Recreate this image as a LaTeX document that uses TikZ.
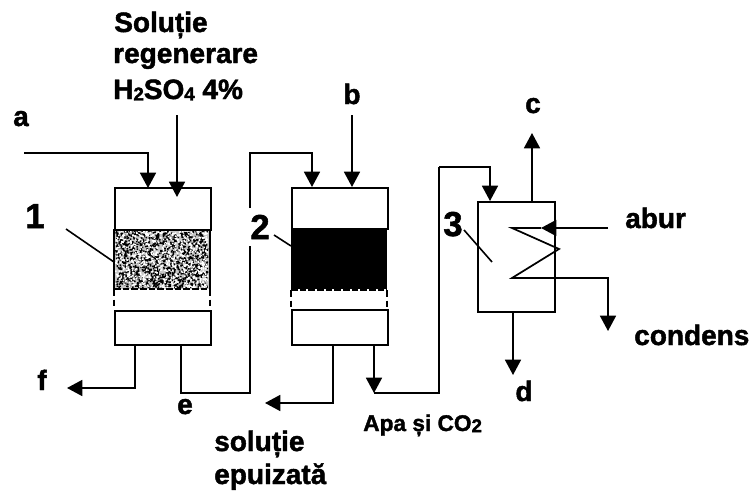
\documentclass[tikz,border=0pt]{standalone}
\usepackage{fontspec}
\setmainfont[BoldFeatures={FakeBold=1.6}]{Liberation Sans}
\usetikzlibrary{arrows.meta}
\tikzset{
  x=0.75pt,y=-0.75pt,
  wall/.style={draw=black,line width=1.4pt},
  pipe/.style={draw=black,line width=1.3pt,line join=miter},
  flow/.style={pipe,-{Triangle[length=11.5pt,width=12pt]}},
  leader/.style={draw=black,line width=1.2pt},
  lab/.style={inner sep=0pt,font=\fontsize{21}{25}\selectfont\bfseries},
  num/.style={inner sep=0pt,font=\fontsize{26}{28}\selectfont\bfseries},
  small/.style={inner sep=0pt,font=\fontsize{17}{20}\selectfont\bfseries},
  sieve/.style={draw=black,line width=1.9pt,dash pattern=on 5pt off 1.5pt},
  sidegap/.style={draw=black,line width=1.2pt,dash pattern=on 5pt off 3pt}
}
\newcommand{\subs}[1]{\raisebox{-0.1ex}{\fontsize{14}{14}\selectfont #1}}
\begin{document}
\begin{tikzpicture}
\useasboundingbox (0,0) rectangle (754,493);
\fill[white] (0,0) rectangle (754,493);
% column 1
\fill[white!78!black] (115,230) rectangle (209,289);
\pgfmathsetseed{4711}
\fill[black] \foreach \i in {1,...,1500}{
  \pgfextra{\pgfmathsetmacro\px{115+92*rnd}\pgfmathsetmacro\py{230+57*rnd}}
  (\px,\py) rectangle ++(1.5,1.5)
};
\fill[white] \foreach \i in {1,...,700}{
  \pgfextra{\pgfmathsetmacro\px{115+92*rnd}\pgfmathsetmacro\py{230+57*rnd}}
  (\px,\py) rectangle ++(1.5,1.5)
};
\node[wall,anchor=north west,inner sep=0pt,minimum width=72pt,minimum height=31.5pt] (top1) at (114,187) {};
\node[wall,anchor=north west,inner sep=0pt,minimum width=72pt,minimum height=25.5pt] (bot1) at (114,310) {};
\coordinate (pl1) at (114,229); \coordinate (pr1) at (210,229);
\coordinate (ql1) at (114,289); \coordinate (qr1) at (210,289);
\coordinate (gl1) at (114,310); \coordinate (gr1) at (210,310);
\draw[wall] (pl1) -- (ql1) (pr1) -- (qr1);
\draw[sieve] (ql1) -- (qr1);
\draw[sidegap] (ql1) -- (gl1) (qr1) -- (gr1);
% column 2
\fill[black] (291,228) rectangle (387,289);
\node[wall,anchor=north west,inner sep=0pt,minimum width=72pt,minimum height=31pt] (top2) at (291,187) {};
\node[wall,anchor=north west,inner sep=0pt,minimum width=72pt,minimum height=26pt] (bot2) at (291,309) {};
\coordinate (ql2) at (291,290); \coordinate (qr2) at (387,290);
\coordinate (gl2) at (291,309); \coordinate (gr2) at (387,309);
\draw[sieve] (ql2) -- (qr2);
\draw[sidegap] (ql2) -- (gl2) (qr2) -- (gr2);
% column 3
\node[wall,anchor=north west,inner sep=0pt,minimum width=57.75pt,minimum height=82.5pt] (hx) at (477,201) {};
% coordinates for connectors
\coordinate (a0) at (24,153); \coordinate (a1) at (148,153); \coordinate (a2) at (148,188);
\coordinate (s0) at (177,115); \coordinate (s1) at (177,197);
\coordinate (f0) at (135,344); \coordinate (f1) at (135,388); \coordinate (f2) at (67,388);
\coordinate (e0) at (181,344); \coordinate (e1) at (181,393); \coordinate (e2) at (250,393); \coordinate (e3) at (250,246);
\coordinate (e4) at (250,208); \coordinate (e5) at (250,153); \coordinate (e6) at (312,153); \coordinate (e7) at (312,187);
\coordinate (b0) at (352,115); \coordinate (b1) at (352,187);
\coordinate (o0) at (333,344); \coordinate (o1) at (333,403); \coordinate (o2) at (265,403);
\coordinate (w0) at (374,344); \coordinate (w1) at (374,393);
\coordinate (w2) at (439,393); \coordinate (w3) at (439,167); \coordinate (w4) at (490,167); \coordinate (w5) at (490,201);
\coordinate (c0) at (532,201); \coordinate (c1) at (532,133);
\coordinate (d0) at (513,311); \coordinate (d1) at (513,375);
\coordinate (ab0) at (608,228); \coordinate (ab1) at (541,228);
\coordinate (z0) at (541,228); \coordinate (z1) at (512,228); \coordinate (z2) at (559,249); \coordinate (z3) at (512,278);
\coordinate (z4) at (608,278); \coordinate (z5) at (608,331);
\coordinate (l1a) at (66,229); \coordinate (l1b) at (114,262);
\coordinate (l2a) at (274,235); \coordinate (l2b) at (291,246);
\coordinate (l3a) at (464,230); \coordinate (l3b) at (492,262);
% connectors
\draw[flow] (a0) -- (a1) -- (a2);
\draw[flow] (s0) -- (s1);
\draw[flow] (f0) -- (f1) -- (f2);
\draw[pipe] (e0) -- (e1) -- (e2) -- (e3);
\draw[flow] (e4) -- (e5) -- (e6) -- (e7);
\draw[flow] (b0) -- (b1);
\draw[flow] (o0) -- (o1) -- (o2);
\draw[flow] (w0) -- (w1);
\draw[pipe] (w1) -- (w2) -- (w3);
\draw[flow] (w3) -- (w4) -- (w5);
\draw[flow] (c0) -- (c1);
\draw[flow] (d0) -- (d1);
\draw[flow] (ab0) -- (ab1);
\draw[flow] (z0) -- (z1) -- (z2) -- (z3) -- (z4) -- (z5);
\draw[leader] (l1a) -- (l1b);
\draw[leader] (l2a) -- (l2b);
\draw[leader] (l3a) -- (l3b);
% labels
\node[lab,anchor=base west] (t1) at (114,32) {Soluție};
\node[lab,anchor=base west] (t2) at (113,63) {regenerare};
\node[lab,anchor=base west] (t3) at (113,99) {H\subs{2}SO\subs{4} 4\%};
\node[lab,anchor=base] (ta) at (21,126) {a};
\node[lab,anchor=base] (tb) at (352,104) {b};
\node[lab,anchor=base] (tc) at (533,113) {c};
\node[lab,anchor=base] (td) at (524,401) {d};
\node[lab,anchor=base] (te) at (185,414) {e};
\node[lab,anchor=base] (tf) at (42,390) {f};
\node[num,anchor=base] (n1) at (35,228) {1};
\node[num,anchor=base] (n2) at (260,239) {2};
\node[num,anchor=base] (n3) at (453,236) {3};
\node[lab,anchor=base west] (tab) at (625,228) {abur};
\node[lab,anchor=base west] (tcd) at (634,345) {condens};
\node[small,anchor=base west] (tap) at (363,431) {Apa și CO\subs{2}};
\node[lab,anchor=base west] (ts) at (214,451) {soluție};
\node[lab,anchor=base west] (tep) at (214,484) {epuizată};
\end{tikzpicture}
\end{document}
